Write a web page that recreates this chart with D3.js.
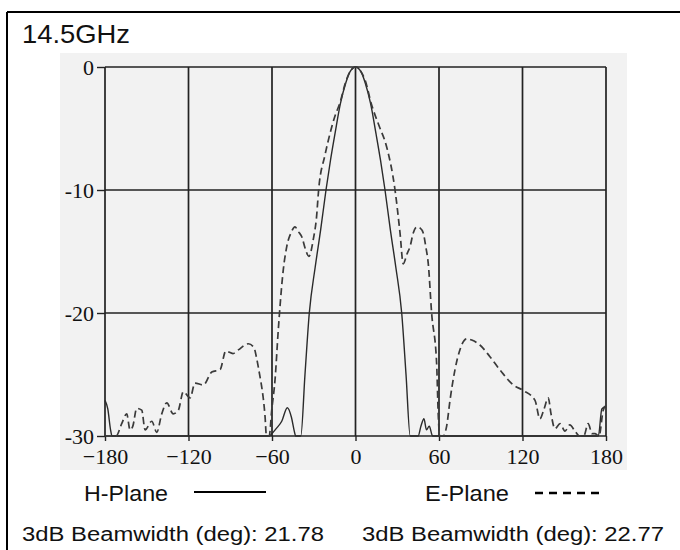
<!DOCTYPE html>
<html>
<head>
<meta charset="utf-8">
<script src="https://d3js.org/d3.v7.min.js"></script>
<style>
  body { margin: 0; background: #fff; }
</style>
</head>
<body>
<div id="chart"></div>
<script>
// tick values
var xTicks = [-180, -120, -60, 0, 60, 120, 180]
var yTicks = [0, -10, -20, -30]

// H-Plane pattern, [angle deg, level dB]
var hAngles = [-180, -178, -176, -175, -62, -60, -57, -53, -49, -46, -44, -43, -39.3, -36.3, -33.2, -29, -25, -21.2, -18, -14.7, -10.9, -7, -4, 0,
  4, 7, 10.9, 14.7, 18, 21.2, 25, 29, 33.2, 36.3, 39.3, 45, 47, 49.2, 51, 53, 55.4, 174.5, 177, 180]
var hLevels = [-27.1, -27.8, -29.5, -30, -30, -29.8, -29.4, -28.8, -27.7, -28.5, -29.6, -30, -30, -25, -20, -16.3, -13.2, -10, -7.6, -5.4, -3, -1.3, -0.4, 0,
  -0.4, -1.3, -3, -5.4, -7.6, -10, -13.2, -16.3, -20, -25, -30, -30, -29.2, -28.6, -29.5, -29.2, -30, -30, -27.8, -27.6]

// E-Plane pattern
var eAngles = [-180, -172, -168, -164.4, -162, -160, -157.2, -153.6, -151.2, -146.4, -142.8, -139.2, -135.6, -131, -127.3, -123.7, -118.9, -115.3,
  -109.3, -103.3, -97.3, -93.2, -88, -84.2, -77, -73, -71, -68.6, -67.4, -65, -64, -62, -60.2, -57.8, -55.5, -51.9, -49.4, -46, -43.5, -41,
  -38.6, -36, -33.5, -30.3, -28, -26.5, -22, -18.3, -14.5, -11.4, -7, -3.5, 0, 3.5, 7, 11.4, 12.8, 17, 22.4, 28.4, 32, 34.3, 37, 39.2, 41.5,
  44, 46.5, 48.7, 50.5, 52.3, 54.7, 58.3, 59.5, 60.5, 63, 65.5, 67.9, 71.5, 75, 79.9, 83.5, 89.4, 96.6, 105, 113.4, 120.5, 129, 132.5, 135.5,
  138.5, 140.5, 143.3, 147, 150.5, 154, 157.7, 161, 164, 167.2, 170, 172, 175, 178, 180]
var eLevels = [-30, -30, -29, -28.2, -29.5, -29.2, -27.75, -27.9, -29.5, -28.8, -29.7, -28.2, -27.3, -28.2, -27.9, -26.4, -26.9, -25.7,
  -25.85, -24.8, -24.6, -23.1, -23.3, -23, -22.5, -22.8, -23.7, -25.2, -26, -28.4, -30, -30, -27.9, -25.4, -21.4, -16.5, -14.6, -13.4, -13, -13.4,
  -13.8, -14.8, -15.4, -14, -12.2, -10, -7.2, -5.4, -3.9, -3, -1.2, -0.3, 0, -0.3, -1.1, -3, -3.5, -4.8, -6.5, -10, -13.5, -16, -15.2, -14.6, -13.5,
  -13, -13.1, -13.5, -14.6, -16, -20, -24.1, -28.4, -30, -30, -29.2, -27.1, -24.6, -23, -22.1, -22.2, -22.6, -23.55, -24.8, -25.85, -26.3, -27.1, -28.6, -27.8,
  -26.9, -28.2, -29.4, -29, -29.6, -29.1, -29.6, -30, -30, -29, -29.8, -29.8, -30, -27.9, -27.5]

var seriesNames = ["H-Plane", "E-Plane"]
var beamwidths = ["21.78", "22.77"]

var width = 680, height = 550

var svg = d3.select("#chart")
  .append("svg")
  .attr("width", width)
  .attr("height", height)

// outer frame (only left and top edges show)
svg.append("line").attr("x1", 7).attr("y1", 12).attr("x2", width).attr("y2", 12)
  .attr("stroke", "#000").attr("stroke-width", 2)
svg.append("line").attr("x1", 7).attr("y1", 12).attr("x2", 7).attr("y2", height)
  .attr("stroke", "#000").attr("stroke-width", 2)

var sans = "Arial, 'Liberation Sans', sans-serif"
var serif = "'Liberation Serif', 'DejaVu Serif', serif"

// title, the scan is a bit stretched sideways
svg.append("text")
  .attr("x", 22).attr("y", 43)
  .attr("textLength", 108).attr("lengthAdjust", "spacingAndGlyphs")
  .style("font-family", sans)
  .style("font-size", "25px")
  .attr("fill", "#111")
  .text("14.5GHz")

// scanned plot background
svg.append("rect")
  .attr("x", 60).attr("y", 53)
  .attr("width", 567).attr("height", 417)
  .attr("fill", "#f2f2f2")

var x = d3.scaleLinear().domain([-180, 180]).range([105, 606])
var y = d3.scaleLinear().domain([-30, 0]).range([436, 67])

// grid
svg.append("g").selectAll("line")
  .data(xTicks)
  .enter().append("line")
    .attr("x1", function(d) { return x(d) })
    .attr("x2", function(d) { return x(d) })
    .attr("y1", y(0)).attr("y2", y(-30))
    .attr("stroke", "#222").attr("stroke-width", 1.7)
svg.append("g").selectAll("line")
  .data(yTicks)
  .enter().append("line")
    .attr("x1", x(-180)).attr("x2", x(180))
    .attr("y1", function(d) { return y(d) })
    .attr("y2", function(d) { return y(d) })
    .attr("stroke", "#222").attr("stroke-width", 1.7)

// axes
var xAxis = svg.append("g")
  .attr("transform", "translate(0," + y(-30) + ")")
  .call(d3.axisBottom(x).tickValues(xTicks).tickSize(5).tickPadding(7)
    .tickFormat(function(d) { return d < 0 ? "\u2212" + (-d) : d }))
xAxis.select(".domain").remove()
xAxis.selectAll("text").style("font-family", serif).style("font-size", "22px").attr("fill", "#111")
xAxis.selectAll("line").attr("stroke", "#222").attr("stroke-width", 1.4)

var yAxis = svg.append("g")
  .attr("transform", "translate(" + x(-180) + ",0)")
  .call(d3.axisLeft(y).tickValues(yTicks).tickSize(8).tickPadding(3)
    .tickFormat(function(d) { return d < 0 ? "-" + (-d) : d }))
yAxis.select(".domain").remove()
yAxis.selectAll("text").style("font-family", serif).style("font-size", "22px").attr("fill", "#111")
yAxis.selectAll("line").attr("stroke", "#222").attr("stroke-width", 1.4)

// curves
var line = d3.line()
  .x(function(d) { return x(d[0]) })
  .y(function(d) { return y(d[1]) })
  .curve(d3.curveMonotoneX)

var hData = d3.zip(hAngles, hLevels)
var eData = d3.zip(eAngles, eLevels)

svg.append("path")
  .datum(hData)
  .attr("d", line)
  .attr("fill", "none")
  .attr("stroke", "#2a2a2a")
  .attr("stroke-width", 1.4)

svg.append("path")
  .datum(eData)
  .attr("d", line)
  .attr("fill", "none")
  .attr("stroke", "#3a3a3a")
  .attr("stroke-width", 1.7)
  .attr("stroke-dasharray", "7,4")

// legend
var legX = [84, 425]
svg.selectAll(".leg")
  .data(seriesNames)
  .enter().append("text")
    .attr("x", function(d, i) { return legX[i] })
    .attr("y", 501)
    .attr("textLength", 84).attr("lengthAdjust", "spacingAndGlyphs")
    .style("font-family", sans).style("font-size", "22px")
    .attr("fill", "#111")
    .text(function(d) { return d })

svg.append("line").attr("x1", 194).attr("x2", 266).attr("y1", 492).attr("y2", 492)
  .attr("stroke", "#000").attr("stroke-width", 2)
svg.append("line").attr("x1", 535).attr("x2", 599).attr("y1", 493).attr("y2", 493)
  .attr("stroke", "#000").attr("stroke-width", 2.5).attr("stroke-dasharray", "8,6")

var bwX = [22, 362]
svg.selectAll(".bw")
  .data(beamwidths)
  .enter().append("text")
    .attr("x", function(d, i) { return bwX[i] })
    .attr("y", 541)
    .attr("textLength", 302).attr("lengthAdjust", "spacingAndGlyphs")
    .style("font-family", sans).style("font-size", "20px")
    .attr("fill", "#111")
    .text(function(d) { return "3dB Beamwidth (deg): " + d })
</script>
</body>
</html>
